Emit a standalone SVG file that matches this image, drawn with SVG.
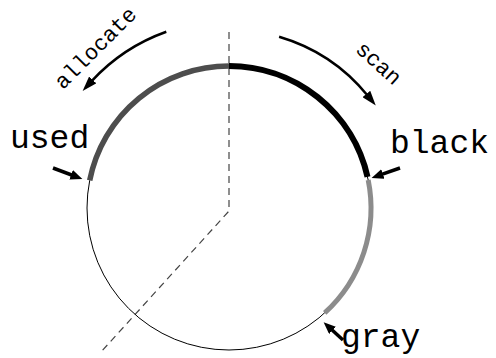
<svg xmlns="http://www.w3.org/2000/svg" width="496" height="358" viewBox="0 0 496 358">
<style>
.lbl{font-family:"Liberation Mono","Courier New",monospace;fill:#000}
.big{font-size:33px}
.small{font-size:22px}
.dash{fill:none;stroke:#444;stroke-width:1.2;stroke-dasharray:7 5}
.curve{fill:none;stroke:#000;stroke-width:2.5}
.ptr{fill:none;stroke:#000;stroke-width:3.5}
</style>
<defs>
<marker id="headBig" viewBox="0 0 15 10" refX="2" refY="5" markerWidth="15" markerHeight="10" markerUnits="userSpaceOnUse" orient="auto">
<path d="M0,0 L15,5 L0,10 z" fill="#000"/>
</marker>
<marker id="headSmall" viewBox="0 0 12 10" refX="2" refY="5" markerWidth="12" markerHeight="10" markerUnits="userSpaceOnUse" orient="auto">
<path d="M0,0 L12,5 L0,10 z" fill="#000"/>
</marker>
</defs>
<g id="guides">
<path class="dash" d="M229,32 L229,211 L101,352"/>
</g>
<g id="ring">
<circle cx="229" cy="208" r="142" fill="none" stroke="#000" stroke-width="1"/>
</g>
<g id="used-arc">
<path d="M229,66 A142,142 0 0 0 89.7,180.4" fill="none" stroke="#4d4d4d" stroke-width="5.5"/>
</g>
<g id="black-arc">
<path d="M229,66 A142,142 0 0 1 367.5,176.8" fill="none" stroke="#000" stroke-width="6"/>
</g>
<g id="gray-arc">
<path d="M368.2,180 A142,142 0 0 1 324.7,312.9" fill="none" stroke="#8c8c8c" stroke-width="5"/>
</g>
<g id="connectors">
<path class="curve" d="M166.3,31.8 A187,187 0 0 0 91.4,81.4" marker-end="url(#headBig)"/>
<path class="curve" d="M279.1,36.7 A178.5,178.5 0 0 1 367.6,95.5" marker-end="url(#headBig)"/>
<path class="ptr" d="M53,168 L73,175.5" marker-end="url(#headSmall)"/>
<path class="ptr" d="M400,168 L381,174.6" marker-end="url(#headSmall)"/>
<path class="ptr" d="M343,340 L331,329" marker-end="url(#headSmall)"/>
</g>
<g id="labels">
<text class="lbl small" x="100.4" y="53" text-anchor="middle" transform="rotate(-45 100.4 53)">allocate</text>
<text class="lbl small" x="374" y="68.4" text-anchor="middle" transform="rotate(42 374 68.4)">scan</text>
<text class="lbl big" x="10" y="148">used</text>
<text class="lbl big" x="390" y="153">black</text>
<text class="lbl big" x="341" y="347">gray</text>
</g>
</svg>
